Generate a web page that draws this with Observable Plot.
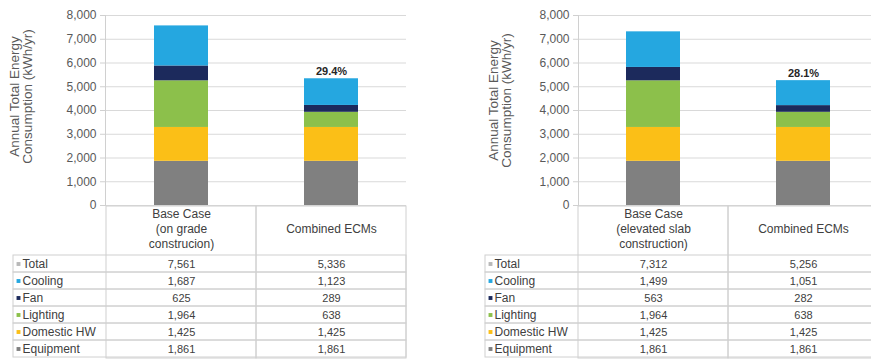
<!DOCTYPE html>
<html><head><meta charset="utf-8">
<script src="https://cdn.jsdelivr.net/npm/d3@7"></script>
<script src="https://cdn.jsdelivr.net/npm/@observablehq/plot@0.6"></script>
<style>
html,body{margin:0;padding:0;background:#fff;}
body{width:871px;height:360px;overflow:hidden;position:relative;font-family:"Liberation Sans",Arial,sans-serif;}
.p{position:absolute;}
.p svg{overflow:visible;max-width:none;}
</style></head><body>
<div id="lc" class="p" style="left:0;top:0;width:420px"></div>
<div id="lt" class="p" style="left:0;top:206px;width:420px"></div>
<div id="rc" class="p" style="left:440px;top:0;width:440px"></div>
<div id="rt" class="p" style="left:440px;top:206px;width:440px"></div>
<script>
const seriesNames = ["Cooling", "Fan", "Lighting", "Domestic HW", "Equipment"];
const seriesColors = ["#25a7e0", "#1c2a5c", "#8cc04b", "#fbbf17", "#808080"];
const totalName = "Total";
const totalColor = "#b8b8b8";
const yTicks = [0, 1000, 2000, 3000, 4000, 5000, 6000, 7000, 8000];
const caseKeys = ["Base Case", "Combined ECMs"];
const axisTitle = "Annual Total Energy\nConsumption (kWh/yr)";

const leftHeaders = ["Base Case\n(on grade\nconstrucion)", "Combined ECMs"];
const leftBaseValues = [1687, 625, 1964, 1425, 1861];
const leftEcmValues = [1123, 289, 638, 1425, 1861];
const leftTotals = [7561, 5336];
const leftSavings = ["29.4%"];

const rightHeaders = ["Base Case\n(elevated slab\nconstruction)", "Combined ECMs"];
const rightBaseValues = [1499, 563, 1964, 1425, 1861];
const rightEcmValues = [1051, 282, 638, 1425, 1861];
const rightTotals = [7312, 5256];
const rightSavings = ["28.1%"];

const rowNames = [totalName, ...seriesNames];
const font = '"Liberation Sans", Arial, sans-serif';
const fmt = d3.format(",");

function chart({base, ecm, totals, savings, width, marginLeft, marginRight, titleDx, titleDy}) {
  const stack = [];
  caseKeys.forEach((c, ci) => {
    const vals = ci === 0 ? base : ecm;
    for (let i = seriesNames.length - 1; i >= 0; i--) stack.push({kase: c, series: seriesNames[i], value: vals[i]});
  });
  const labels = [{kase: caseKeys[1], total: totals[1], text: savings[0]}];
  return Plot.plot({
    width, height: 206, marginLeft, marginRight, marginTop: 15, marginBottom: 1,
    style: {fontFamily: font, fontSize: "12px", color: "#595959", background: "transparent"},
    x: {domain: caseKeys, padding: 0, axis: null},
    y: {domain: [0, 8000]},
    color: {domain: seriesNames, range: seriesColors},
    marks: [
      Plot.ruleY(yTicks, {stroke: "#d9d9d9"}),
      Plot.axisY(yTicks, {tickFormat: fmt, tickSize: 5, tickPadding: 4, stroke: "#d0d0d0", fill: "#595959", label: null}),
      Plot.frame({anchor: "left", stroke: "#d0d0d0"}),
      Plot.barY(stack, {x: "kase", y: "value", fill: "series", insetLeft: 48, insetRight: 48}),
      Plot.text(labels, {x: "kase", y: "total", text: "text", dy: -7, fontSize: 11, fontWeight: "bold", fill: "#262626"}),
      Plot.text([axisTitle], {text: d => d, frameAnchor: "left", textAnchor: "middle", rotate: -90, dx: titleDx, dy: titleDy, lineAnchor: "middle", lineHeight: 0.95, fontSize: 13.5, fill: "#595959"})
    ]
  });
}

function table({headers, base, ecm, totals, width, marginLeft, marginRight, labelWidth}) {
  const cells = [];
  caseKeys.forEach((c, ci) => {
    const vals = ci === 0 ? base : ecm;
    cells.push({kase: c, row: totalName, value: totals[ci]});
    seriesNames.forEach((s, i) => cells.push({kase: c, row: s, value: vals[i]}));
  });
  return Plot.plot({
    width, height: 153, marginLeft, marginRight, marginTop: 48, marginBottom: 1,
    style: {fontFamily: font, fontSize: "12px", color: "#404040", background: "transparent"},
    x: {domain: caseKeys, padding: 0, axis: null},
    y: {domain: rowNames, padding: 0, axis: null},
    color: {domain: rowNames, range: [totalColor, ...seriesColors]},
    marks: [
      Plot.cell(rowNames, {y: d => d, fill: "none", stroke: "#d0d0d0", insetLeft: -labelWidth}),
      Plot.cell(caseKeys, {x: d => d, fill: "none", stroke: "#d0d0d0", insetTop: -48}),
      Plot.text(caseKeys, {x: d => d, text: (d, i) => headers[i], frameAnchor: "top", dy: -26, lineAnchor: "middle", lineHeight: 1.25, fill: "#404040"}),
      Plot.text(cells, {x: "kase", y: "row", text: d => fmt(d.value), fontSize: 11, fill: "#404040"}),
      Plot.dot(rowNames, {y: d => d, frameAnchor: "left", dx: -labelWidth + 5, symbol: "square", r: 2.2, fill: d => d, stroke: null}),
      Plot.text(rowNames, {y: d => d, text: d => d, frameAnchor: "left", dx: -labelWidth + 9, textAnchor: "start", fill: "#404040"})
    ]
  });
}

document.getElementById("lc").append(chart({base: leftBaseValues, ecm: leftEcmValues, totals: leftTotals, savings: leftSavings, width: 420, marginLeft: 105, marginRight: 14, titleDx: -84, titleDy: -14}));
document.getElementById("lt").append(table({headers: leftHeaders, base: leftBaseValues, ecm: leftEcmValues, totals: leftTotals, width: 420, marginLeft: 105, marginRight: 14, labelWidth: 92}));
document.getElementById("rc").append(chart({base: rightBaseValues, ecm: rightEcmValues, totals: rightTotals, savings: rightSavings, width: 440, marginLeft: 138, marginRight: 2, titleDx: -78, titleDy: -10}));
document.getElementById("rt").append(table({headers: rightHeaders, base: rightBaseValues, ecm: rightEcmValues, totals: rightTotals, width: 440, marginLeft: 138, marginRight: 2, labelWidth: 93}));
</script>
</body></html>
